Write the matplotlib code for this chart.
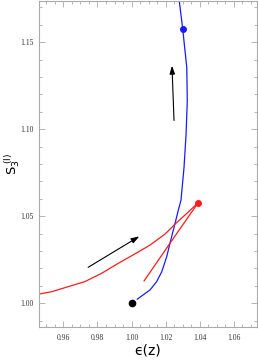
import matplotlib
matplotlib.use("Agg")
import matplotlib.pyplot as plt
from matplotlib.ticker import MultipleLocator, FormatStrFormatter

# Blue curve (x, y)
blue_x = [1.0034, 1.0069, 1.0109, 1.0148, 1.0178, 1.0207, 1.0226, 1.0256, 1.0275, 1.0291,
          1.0309, 1.0321, 1.0328, 1.0325, 1.0301, 1.0281, 1.0278]
blue_y = [1.0023, 1.0048, 1.0076, 1.0124, 1.0181, 1.0267, 1.0344, 1.0458, 1.0534, 1.0592,
          1.0782, 1.0974, 1.1164, 1.1355, 1.1577, 1.1737, 1.1766]

# Red curve: outgoing branch and return branch
red1_x = [0.9432, 0.9531, 0.9628, 0.9726, 0.9825, 0.9922, 1.0009, 1.0109, 1.0197, 1.0260, 1.0326, 1.0391]
red1_y = [1.0048, 1.0066, 1.0095, 1.0124, 1.0172, 1.0229, 1.0277, 1.0334, 1.0397, 1.0458, 1.0517, 1.0576]
red2_x = [1.0391, 1.0226, 1.0074]
red2_y = [1.0576, 1.0344, 1.0128]

# Marker points
black_pt = (1.0000, 1.0000)
red_pt = (1.0391, 1.0576)
blue_pt = (1.0301, 1.1577)

# Arrows (tail, head)
arrow1 = ((0.9745, 1.0206), (1.0046, 1.0384))
arrow2 = ((1.0250, 1.1050), (1.0238, 1.1365))

xticks = [0.96, 0.98, 1.00, 1.02, 1.04, 1.06]
yticks = [1.00, 1.05, 1.10, 1.15]

fig = plt.figure(figsize=(2.58, 3.63), dpi=100)
ax = fig.add_axes([39/258, 36/363, 218/258, 326/363])

ax.plot(blue_x, blue_y, color='#1a1aff', lw=0.9)
ax.plot(red1_x, red1_y, color='#ff1a1a', lw=0.9)
ax.plot(red2_x, red2_y, color='#ff1a1a', lw=0.9)
ax.plot(*black_pt, 'o', color='black', ms=4.5)
ax.plot(*red_pt, 'o', color='#ff1a1a', ms=4)
ax.plot(*blue_pt, 'o', color='#1a1aff', ms=4)

for (t, h) in (arrow1, arrow2):
    ax.annotate('', xy=h, xytext=t,
                arrowprops=dict(arrowstyle='-|>,head_length=0.6,head_width=0.2',
                                color='black', lw=0.8,
                                mutation_scale=8, shrinkA=0, shrinkB=0))

ax.set_xlim(0.9456, 1.0738)
ax.set_ylim(0.9863, 1.1737)
ax.set_xticks(xticks)
ax.set_yticks(yticks)
ax.xaxis.set_major_formatter(FormatStrFormatter('%.2f'))
ax.yaxis.set_major_formatter(FormatStrFormatter('%.2f'))
ax.xaxis.set_minor_locator(MultipleLocator(0.005))
ax.yaxis.set_minor_locator(MultipleLocator(0.01))

frame_c = '#aaaaaa'
for s in ax.spines.values():
    s.set_color(frame_c)
    s.set_linewidth(0.8)
ax.tick_params(which='both', direction='in', top=True, right=True, color=frame_c,
               width=0.6)
ax.tick_params(which='major', length=4)
ax.tick_params(which='minor', length=2)
ax.tick_params(labelsize=5.5, labelcolor='#333333')
ax.tick_params(axis='x', pad=5)
ax.tick_params(axis='y', pad=4)
for lab in ax.get_xticklabels() + ax.get_yticklabels():
    lab.set_family('Liberation Serif')

fig.text(148/258, 1 - 350/363, 'ϵ(z)', fontsize=10, ha='center', va='center')
fig.text(12/258, 1 - 164/363, r'$\mathrm{S}_3^{\;(\mathrm{I})}$', fontsize=9.5,
         ha='center', va='center', rotation=90)

fig.savefig('out.png', dpi=100)
